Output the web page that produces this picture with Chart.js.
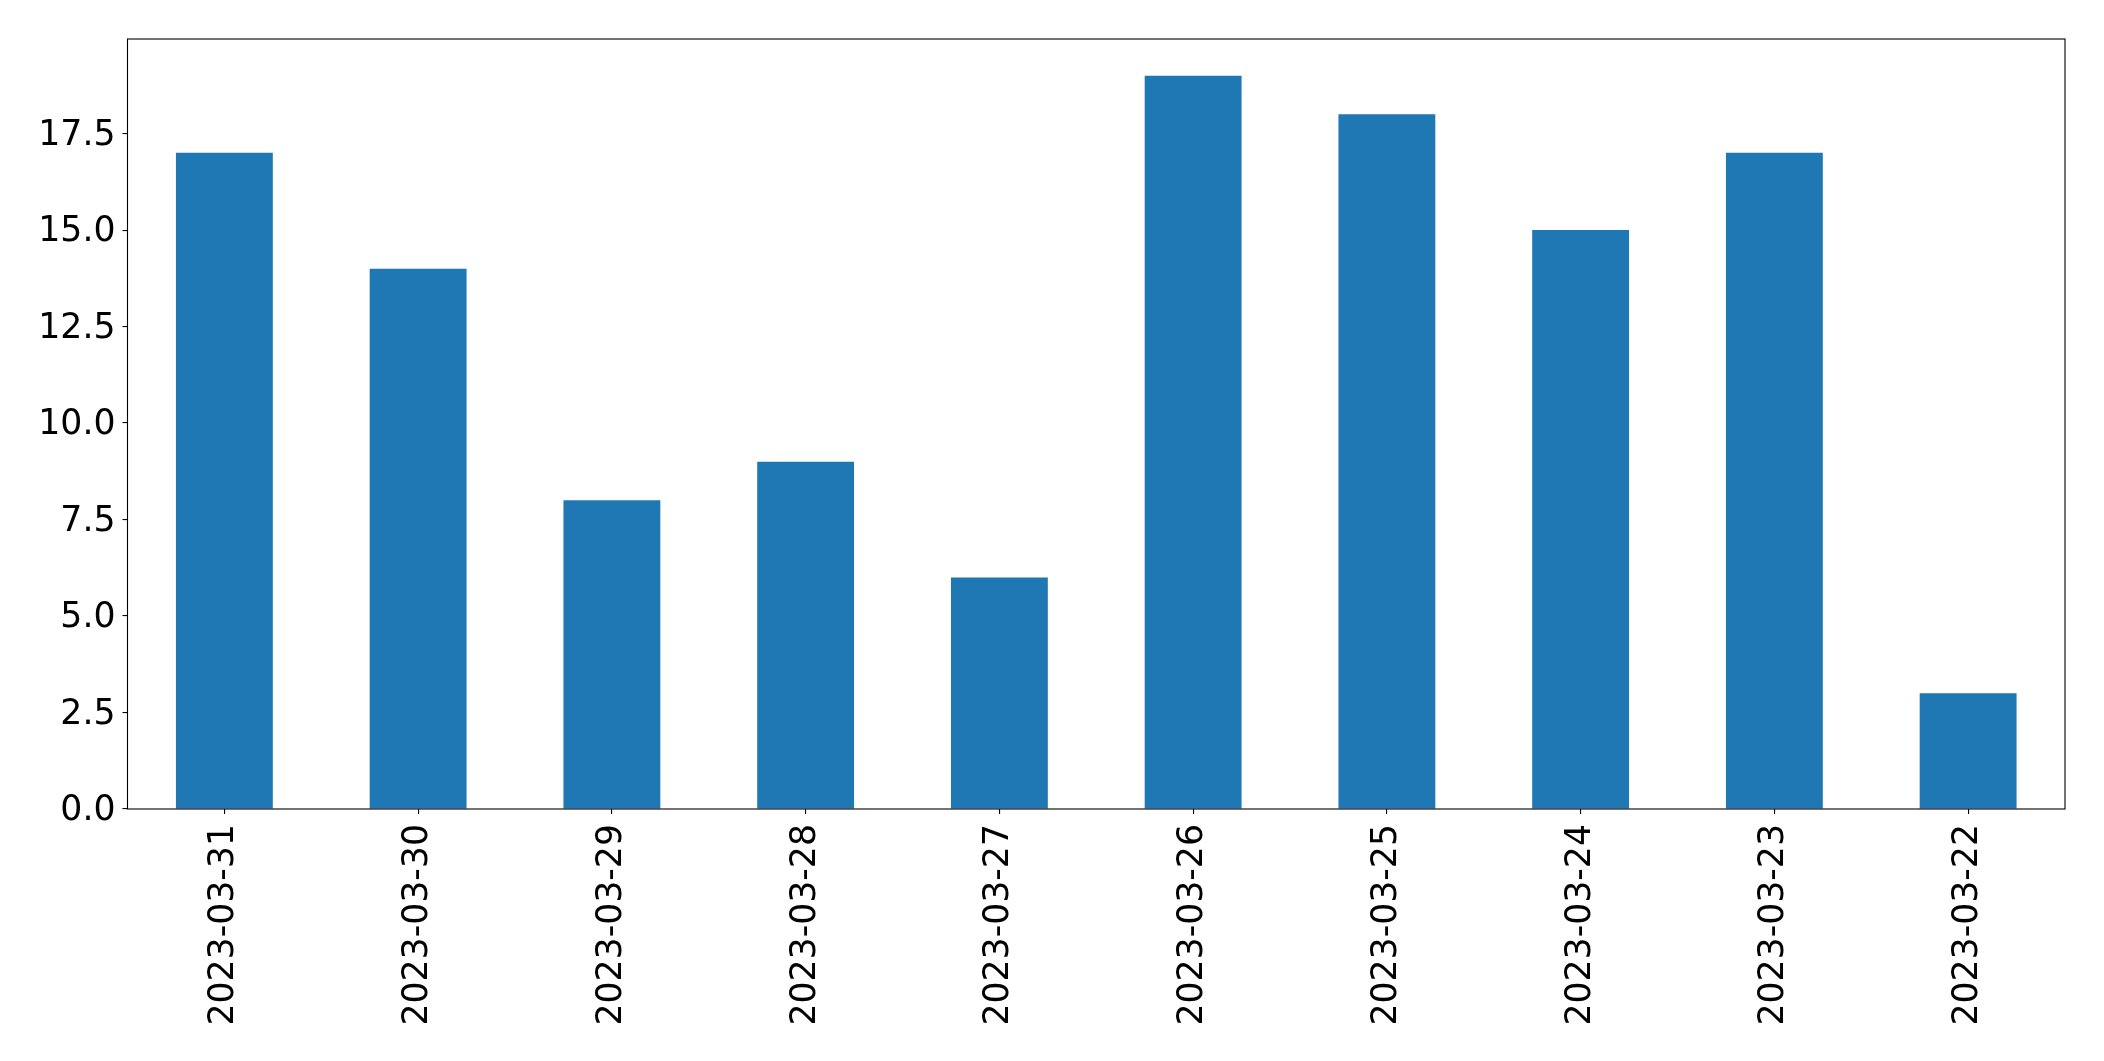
<!DOCTYPE html>
<html>
<head>
<meta charset="utf-8">
<script src="https://cdn.jsdelivr.net/npm/chart.js@4"></script>
<style>
  html, body { margin: 0; padding: 0; background: #fff; }
  #wrap { width: 2104px; height: 1061px; }
</style>
</head>
<body>
<div id="wrap"><canvas id="chart" width="2104" height="1061"></canvas></div>
<script>
const dates = ['2023-03-31', '2023-03-30', '2023-03-29', '2023-03-28', '2023-03-27',
  '2023-03-26', '2023-03-25', '2023-03-24', '2023-03-23', '2023-03-22'];
const counts = [17, 14, 8, 9, 6, 19, 18, 15, 17, 3];
const yTicks = [0, 2.5, 5, 7.5, 10, 12.5, 15, 17.5];

const font = { family: 'DejaVu Sans', size: 34.7 };

// full box round the plot area, like matplotlib spines
const frame = {
  id: 'frame',
  afterDraw(chart) {
    const { ctx, chartArea: a } = chart;
    ctx.save();
    ctx.strokeStyle = '#000';
    ctx.lineWidth = 1.1;
    ctx.strokeRect(a.left, a.top, a.right - a.left, a.bottom - a.top);
    ctx.restore();
  }
};

new Chart(document.getElementById('chart'), {
  type: 'bar',
  data: {
    labels: dates,
    datasets: [{
      data: counts,
      backgroundColor: '#1f77b4',
      borderWidth: 0,
      barPercentage: 0.5,
      categoryPercentage: 1.0
    }]
  },
  options: {
    responsive: false,
    animation: false,
    layout: { padding: { top: 39, right: 39, left: 0, bottom: 0 } },
    plugins: { legend: { display: false }, tooltip: { enabled: false } },
    scales: {
      x: {
        offset: true,
        border: { display: false },
        grid: { display: true, offset: false, drawOnChartArea: false, drawTicks: true, tickLength: 5, color: '#000', lineWidth: 1.1 },
        ticks: { color: '#000', font, minRotation: 90, maxRotation: 90, padding: 10, autoSkip: false },
        afterFit(scale) { scale.height = 252; }
      },
      y: {
        min: 0,
        max: 19.95,
        border: { display: false },
        grid: { display: true, drawOnChartArea: false, drawTicks: true, tickLength: 5, color: '#000', lineWidth: 1.1 },
        afterBuildTicks(scale) { scale.ticks = yTicks.map(v => ({ value: v })); },
        ticks: { color: '#000', font, padding: 7, labelOffset: 2, callback: v => Number(v).toFixed(1) },
        afterFit(scale) { scale.width = 127.5; }
      }
    }
  },
  plugins: [frame]
});
</script>
</body>
</html>
